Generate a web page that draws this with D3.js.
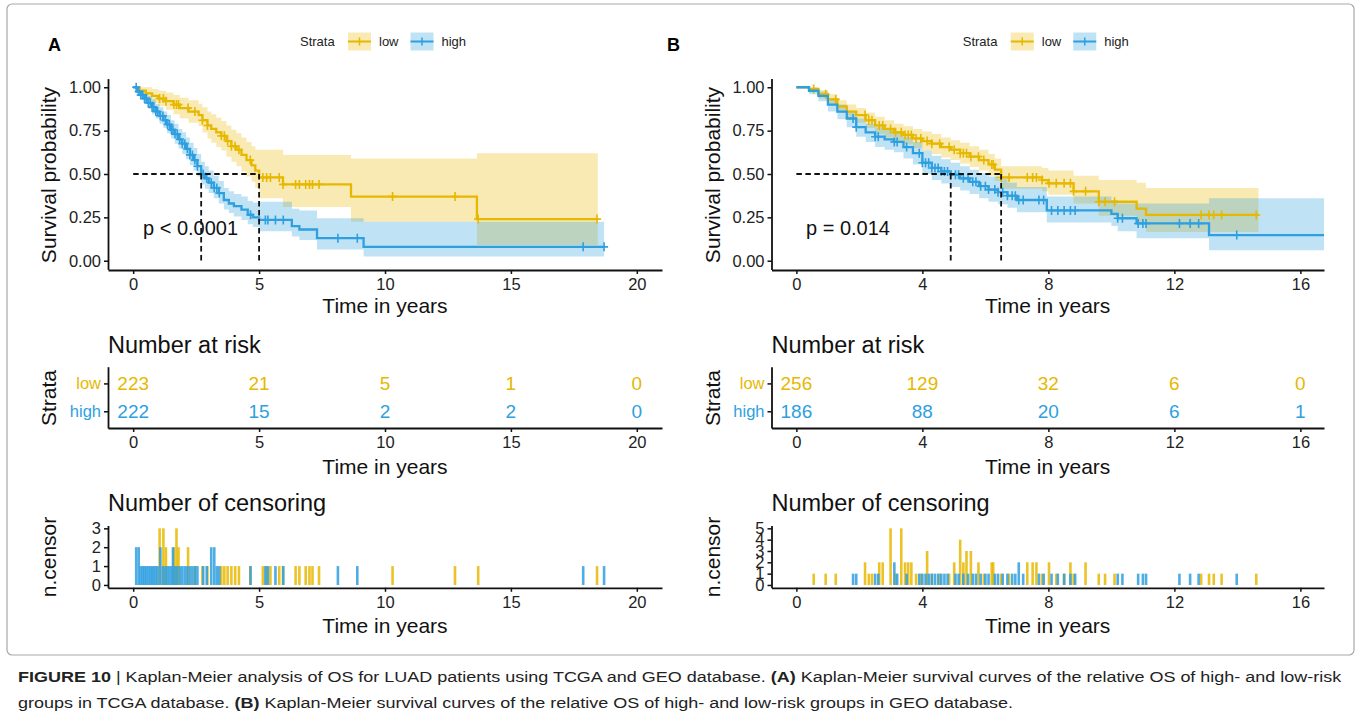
<!DOCTYPE html>
<html>
<head>
<meta charset="utf-8">
<script src="https://cdn.jsdelivr.net/npm/d3@7"></script>
<style>
  body { margin: 0; background: #fff; }
  svg text { font-family: "Liberation Sans", Arial, Helvetica, sans-serif; }
</style>
</head>
<body>
<svg id="fig" width="1360" height="722"></svg>
<script>
// ---------------- Data ----------------
const strata = ["low", "high"];

// Panel A (TCGA): Kaplan-Meier steps
const timeA_low  = [0, 0.25, 0.5, 0.75, 1.0, 1.3, 1.6, 1.85, 2.2, 2.6, 2.75, 2.95, 3.1, 3.3, 3.5, 3.7, 3.9, 4.1, 4.3, 4.5, 4.7, 4.85, 5.0, 5.95, 8.65, 13.65];
const survA_low  = [1, 0.98, 0.965, 0.95, 0.935, 0.92, 0.90, 0.88, 0.86, 0.84, 0.81, 0.78, 0.76, 0.74, 0.72, 0.69, 0.66, 0.64, 0.61, 0.58, 0.55, 0.52, 0.48, 0.44, 0.37, 0.24];
const upperA_low = [1, 1, 1, 0.99, 0.98, 0.97, 0.955, 0.94, 0.925, 0.905, 0.885, 0.86, 0.845, 0.825, 0.805, 0.78, 0.755, 0.735, 0.71, 0.685, 0.66, 0.64, 0.64, 0.61, 0.59, 0.62];
const lowerA_low = [1, 0.96, 0.93, 0.91, 0.89, 0.87, 0.845, 0.82, 0.795, 0.775, 0.74, 0.705, 0.68, 0.655, 0.635, 0.60, 0.57, 0.545, 0.515, 0.485, 0.455, 0.42, 0.36, 0.31, 0.225, 0.09];
const endA_low = 18.45;

const timeA_high  = [0, 0.15, 0.3, 0.45, 0.6, 0.75, 0.9, 1.05, 1.2, 1.35, 1.5, 1.65, 1.8, 1.95, 2.1, 2.25, 2.4, 2.55, 2.7, 2.85, 3.0, 3.2, 3.4, 3.6, 3.8, 4.0, 4.3, 4.55, 4.75, 5.0, 6.3, 6.6, 7.3, 9.15];
const survA_high  = [1, 0.975, 0.955, 0.935, 0.91, 0.885, 0.86, 0.835, 0.81, 0.785, 0.755, 0.73, 0.70, 0.675, 0.645, 0.61, 0.58, 0.545, 0.50, 0.475, 0.45, 0.42, 0.39, 0.35, 0.33, 0.315, 0.295, 0.265, 0.25, 0.235, 0.20, 0.18, 0.13, 0.08];
const upperA_high = [1, 0.995, 0.985, 0.97, 0.95, 0.93, 0.905, 0.885, 0.86, 0.84, 0.81, 0.79, 0.76, 0.74, 0.71, 0.68, 0.65, 0.615, 0.57, 0.545, 0.52, 0.49, 0.46, 0.42, 0.40, 0.385, 0.37, 0.345, 0.335, 0.34, 0.30, 0.29, 0.245, 0.225];
const lowerA_high = [1, 0.955, 0.93, 0.905, 0.875, 0.845, 0.82, 0.79, 0.765, 0.735, 0.705, 0.675, 0.645, 0.615, 0.585, 0.55, 0.52, 0.485, 0.44, 0.415, 0.39, 0.36, 0.33, 0.295, 0.275, 0.255, 0.235, 0.21, 0.195, 0.17, 0.14, 0.12, 0.065, 0.025];
const endA_high = 18.7;

// Panel A censoring times (years) and counts
const censTimeA_low  = [1.05, 1.2, 1.3, 1.62, 1.72, 1.8, 2.18, 2.45, 2.75, 2.95, 3.5, 3.62, 3.75, 3.9, 4.05, 4.2, 4.65, 5.15, 5.3, 5.45, 5.8, 5.95, 6.45, 6.6, 6.85, 7.0, 7.12, 7.38, 10.3, 12.78, 13.7, 18.42];
const censCountA_low = [3, 3, 2, 2, 3, 2, 2, 1, 1, 1, 1, 1, 1, 1, 1, 1, 1, 1, 1, 1, 1, 1, 1, 1, 1, 1, 1, 1, 1, 1, 1, 1];
const censTimeA_high  = [0.12, 0.22, 0.3, 0.38, 0.45, 0.52, 0.6, 0.68, 0.75, 0.82, 0.9, 0.97, 1.08, 1.18, 1.28, 1.36, 1.44, 1.52, 1.58, 1.66, 1.75, 1.85, 1.95, 2.05, 2.15, 2.25, 2.35, 2.45, 2.55, 2.78, 2.92, 3.1, 3.22, 3.32, 3.42, 4.66, 5.25, 5.35, 5.65, 5.96, 8.13, 8.9, 17.87, 18.7];
const censCountA_high = [2, 2, 1, 1, 1, 1, 1, 1, 1, 1, 1, 1, 2, 1, 1, 1, 1, 1, 2, 1, 1, 1, 1, 1, 1, 1, 1, 1, 1, 1, 1, 2, 2, 1, 1, 1, 1, 1, 1, 1, 1, 1, 1, 1];

// Panel A number at risk
const riskTicksA = [0, 5, 10, 15, 20];
const riskA_low  = [223, 21, 5, 1, 0];
const riskA_high = [222, 15, 2, 2, 0];

// Panel B (GEO): Kaplan-Meier steps
const timeB_low  = [0, 0.4, 0.7, 1.0, 1.3, 1.6, 1.9, 2.2, 2.5, 2.8, 3.1, 3.4, 3.7, 4.0, 4.3, 4.6, 4.9, 5.2, 5.5, 5.8, 6.1, 6.3, 6.5, 7.8, 8.0, 8.8, 9.6, 10.8, 11.1];
const survB_low  = [1, 0.99, 0.96, 0.93, 0.89, 0.86, 0.84, 0.81, 0.78, 0.76, 0.74, 0.725, 0.705, 0.69, 0.675, 0.655, 0.64, 0.62, 0.60, 0.58, 0.555, 0.525, 0.48, 0.465, 0.446, 0.40, 0.34, 0.30, 0.264];
const upperB_low = [1, 1, 0.985, 0.96, 0.925, 0.9, 0.88, 0.855, 0.83, 0.81, 0.79, 0.775, 0.76, 0.745, 0.73, 0.71, 0.695, 0.68, 0.66, 0.64, 0.615, 0.59, 0.545, 0.535, 0.52, 0.49, 0.465, 0.45, 0.42];
const lowerB_low = [1, 0.975, 0.935, 0.9, 0.855, 0.82, 0.795, 0.765, 0.73, 0.71, 0.69, 0.67, 0.65, 0.635, 0.615, 0.595, 0.58, 0.56, 0.54, 0.52, 0.49, 0.46, 0.415, 0.40, 0.38, 0.33, 0.26, 0.22, 0.165];
const endB_low = 14.67;

const timeB_high  = [0, 0.4, 0.7, 1.0, 1.3, 1.6, 1.9, 2.2, 2.5, 2.8, 3.1, 3.4, 3.7, 4.0, 4.3, 4.6, 4.9, 5.2, 5.5, 5.8, 6.1, 6.4, 6.7, 7.0, 7.95, 10.0, 10.2, 10.8, 13.1];
const survB_high  = [1, 0.98, 0.95, 0.90, 0.86, 0.82, 0.77, 0.74, 0.715, 0.70, 0.685, 0.655, 0.62, 0.565, 0.535, 0.515, 0.495, 0.475, 0.455, 0.43, 0.41, 0.395, 0.375, 0.35, 0.29, 0.27, 0.245, 0.215, 0.148];
const upperB_high = [1, 0.995, 0.975, 0.935, 0.9, 0.865, 0.82, 0.79, 0.77, 0.755, 0.74, 0.715, 0.685, 0.635, 0.605, 0.585, 0.565, 0.545, 0.525, 0.505, 0.485, 0.47, 0.45, 0.425, 0.37, 0.35, 0.33, 0.33, 0.36];
const lowerB_high = [1, 0.96, 0.92, 0.86, 0.815, 0.77, 0.715, 0.685, 0.655, 0.64, 0.625, 0.59, 0.555, 0.5, 0.465, 0.445, 0.425, 0.405, 0.385, 0.36, 0.34, 0.325, 0.305, 0.28, 0.22, 0.2, 0.17, 0.13, 0.06];
const endB_high = 16.75;

// Panel B censoring times (years) and counts
const censTimeB_low  = [0.55, 0.93, 1.25, 2.18, 2.3, 2.4, 2.63, 2.74, 2.99, 3.15, 3.33, 3.45, 3.55, 3.65, 3.8, 3.95, 4.15, 4.3, 4.55, 4.85, 5.01, 5.2, 5.3, 5.4, 5.54, 5.78, 5.95, 6.2, 6.25, 6.5, 6.75, 7.33, 7.5, 7.62, 7.8, 8.02, 8.25, 8.5, 8.7, 8.8, 9.18, 9.6, 9.8, 10.1, 12.85, 13.1, 13.25, 13.5, 14.6];
const censCountB_low = [1, 1, 1, 2, 1, 1, 2, 2, 5, 1, 5, 2, 2, 2, 1, 1, 3, 1, 1, 1, 2, 4, 2, 3, 3, 2, 1, 2, 2, 1, 1, 2, 2, 2, 1, 2, 1, 1, 2, 1, 2, 1, 1, 1, 1, 1, 1, 1, 1];
const censTimeB_high  = [1.8, 1.9, 2.5, 2.6, 3.11, 3.2, 3.5, 3.9, 4.0, 4.1, 4.2, 4.3, 4.4, 4.5, 4.6, 4.7, 4.8, 5.05, 5.15, 5.3, 5.45, 5.6, 5.7, 5.85, 6.0, 6.1, 6.3, 6.4, 6.55, 6.7, 6.85, 6.95, 7.06, 7.2, 7.7, 7.85, 8.1, 8.3, 8.5, 8.7, 8.85, 10.2, 10.35, 10.85, 11.0, 11.1, 12.16, 12.5, 12.77, 13.98];
const censCountB_high = [1, 1, 1, 1, 2, 1, 1, 1, 1, 1, 1, 1, 1, 1, 1, 1, 1, 1, 1, 1, 1, 1, 1, 1, 1, 1, 1, 1, 1, 1, 1, 1, 2, 1, 1, 1, 1, 1, 1, 1, 1, 1, 1, 1, 1, 1, 1, 1, 1, 1];

// Panel B number at risk
const riskTicksB = [0, 4, 8, 12, 16];
const riskB_low  = [256, 129, 32, 6, 0];
const riskB_high = [186, 88, 20, 6, 1];

const pTextA = "p < 0.0001";
const pTextB = "p = 0.014";

const captionLine1 = [
  {t: "FIGURE 10", b: true}, {t: " | Kaplan-Meier analysis of OS for LUAD patients using TCGA and GEO database. ", b: false},
  {t: "(A)", b: true}, {t: " Kaplan-Meier survival curves of the relative OS of high- and low-risk", b: false}
];
const captionLine2 = [
  {t: "groups in TCGA database. ", b: false}, {t: "(B)", b: true},
  {t: " Kaplan-Meier survival curves of the relative OS of high- and low-risk groups in GEO database.", b: false}
];

// ---------------- Drawing ----------------
const FONT = "'Liberation Sans', Arial, Helvetica, sans-serif";
const COLORS = { low: "#E7B800", high: "#2E9FDF" };
const svg = d3.select("#fig");

svg.append("rect").attr("x", 7).attr("y", 4).attr("width", 1347).attr("height", 651)
  .attr("rx", 5).attr("fill", "none").attr("stroke", "#a8a8a8").attr("stroke-width", 1.2);

const TICK_FS = 16.5, TITLE_FS = 21, HEAD_FS = 23.5;

function styleAxis(g) {
  g.attr("font-family", FONT).attr("font-size", TICK_FS);
  g.select(".domain").attr("stroke", "#111").attr("stroke-width", 1.8);
  g.selectAll(".tick line").attr("stroke", "#111").attr("stroke-width", 1.5);
  g.selectAll(".tick text").attr("fill", "#222");
}

function groupsFor(p) {
  return [
    { key: "low", time: p.low.time, surv: p.low.surv, upper: p.low.upper, lower: p.low.lower, end: p.low.end,
      cT: p.low.cT, cN: p.low.cN, color: COLORS.low },
    { key: "high", time: p.high.time, surv: p.high.surv, upper: p.high.upper, lower: p.high.lower, end: p.high.end,
      cT: p.high.cT, cN: p.high.cN, color: COLORS.high }
  ];
}

function survAt(gr, t) {
  const i = Math.max(0, d3.bisectRight(gr.time, t) - 1);
  return gr.surv[i];
}
function medianOf(gr) {
  const i = gr.surv.findIndex(s => s <= 0.5);
  return gr.time[i];
}

function drawPanel(p) {
  const groups = groupsFor(p);
  const cx = (p.x0 + p.x1) / 2;
  const x = d3.scaleLinear().domain(p.tDomain).range([p.x0, p.x1]);

  // Panel letter
  svg.append("text").attr("x", p.letterX).attr("y", 51).attr("font-size", 18).attr("font-weight", "bold")
    .attr("fill", "#000").text(p.letter);

  // Legend
  const lg = svg.append("g").attr("font-size", 13).attr("fill", "#222");
  lg.append("text").attr("x", cx - 85).attr("y", 46).text("Strata");
  const keyX = { low: cx - 37, high: cx + 25.5 };
  groups.forEach(gr => {
    const kx = keyX[gr.key];
    lg.append("rect").attr("x", kx).attr("y", 32.5).attr("width", 23).attr("height", 18)
      .attr("fill", gr.color).attr("fill-opacity", 0.3);
    lg.append("line").attr("x1", kx).attr("x2", kx + 23).attr("y1", 41.5).attr("y2", 41.5)
      .attr("stroke", gr.color).attr("stroke-width", 2);
    lg.append("line").attr("x1", kx + 11.5).attr("x2", kx + 11.5).attr("y1", 37.5).attr("y2", 45.5)
      .attr("stroke", gr.color).attr("stroke-width", 1.5);
    lg.append("text").attr("x", kx + 31).attr("y", 46).text(gr.key);
  });

  // ---- Survival curves ----
  const y = d3.scaleLinear().domain([-0.05, 1.05]).range([269.4, 78.6]);
  const plot = svg.append("g");

  const stepPts = gr => {
    const pts = gr.time.map((t, i) => ({ t, s: gr.surv[i], lo: gr.lower[i], hi: gr.upper[i] }));
    const n = gr.time.length - 1;
    pts.push({ t: gr.end, s: gr.surv[n], lo: gr.lower[n], hi: gr.upper[n] });
    return pts;
  };

  groups.forEach(gr => {
    plot.append("path").datum(stepPts(gr))
      .attr("d", d3.area().curve(d3.curveStepAfter).x(d => x(d.t)).y0(d => y(d.lo)).y1(d => y(d.hi)))
      .attr("fill", gr.color).attr("fill-opacity", 0.3);
  });
  groups.forEach(gr => {
    plot.append("path").datum(stepPts(gr))
      .attr("d", d3.line().curve(d3.curveStepAfter).x(d => x(d.t)).y(d => y(d.s)))
      .attr("fill", "none").attr("stroke", gr.color).attr("stroke-width", 2.3);
    gr.cT.forEach(t => {
      const px = x(t), py = y(survAt(gr, t));
      plot.append("path").attr("d", `M${px - 4},${py}H${px + 4}M${px},${py - 4.5}V${py + 4.5}`)
        .attr("stroke", gr.color).attr("stroke-width", 1.6).attr("fill", "none");
    });
  });

  // Median survival guides
  const meds = groups.map(medianOf);
  const dash = { stroke: "#111", "stroke-width": 1.8, "stroke-dasharray": "5.5,3.5" };
  const hl = plot.append("line").attr("x1", x(0)).attr("x2", x(d3.max(meds))).attr("y1", y(0.5)).attr("y2", y(0.5));
  Object.entries(dash).forEach(([k, v]) => hl.attr(k, v));
  meds.forEach(m => {
    const vl = plot.append("line").attr("x1", x(m)).attr("x2", x(m)).attr("y1", y(0.5)).attr("y2", y(0));
    Object.entries(dash).forEach(([k, v]) => vl.attr(k, v));
  });

  plot.append("text").attr("x", p.pX).attr("y", 235).attr("font-size", 20).attr("fill", "#111").text(p.pText);

  const gx = svg.append("g").attr("transform", "translate(0,270)")
    .call(d3.axisBottom(x).tickValues(p.ticks).tickSize(4).tickSizeOuter(0).tickPadding(4));
  styleAxis(gx);
  const gy = svg.append("g").attr("transform", `translate(${p.x0},0)`)
    .call(d3.axisLeft(y).tickValues([0, 0.25, 0.5, 0.75, 1]).tickFormat(d3.format(".2f"))
      .tickSize(4).tickSizeOuter(0).tickPadding(3));
  styleAxis(gy);

  svg.append("text").attr("x", cx).attr("y", 313).attr("text-anchor", "middle").attr("font-size", TITLE_FS)
    .attr("fill", "#111").text("Time in years");
  svg.append("text").attr("transform", `translate(${p.yTitleX},175) rotate(-90)`).attr("text-anchor", "middle")
    .attr("font-size", TITLE_FS).attr("fill", "#111").text("Survival probability");

  // ---- Number at risk ----
  svg.append("text").attr("x", p.x0).attr("y", 353).attr("font-size", HEAD_FS).attr("fill", "#111").text("Number at risk");
  const yr = d3.scalePoint().domain(["high", "low"]).range([428, 366.7]).padding(0.6);
  const risk = { low: p.riskLow, high: p.riskHigh };
  groups.forEach(gr => {
    svg.append("g").selectAll("text").data(p.ticks).join("text")
      .attr("x", d => x(d)).attr("y", yr(gr.key)).attr("dy", "0.36em").attr("text-anchor", "middle")
      .attr("font-size", 19).attr("fill", gr.color).text((d, i) => risk[gr.key][i]);
  });
  const rx = svg.append("g").attr("transform", "translate(0,428)")
    .call(d3.axisBottom(x).tickValues(p.ticks).tickSize(4).tickSizeOuter(0).tickPadding(4));
  styleAxis(rx);
  const ry = svg.append("g").attr("transform", `translate(${p.x0},0)`)
    .call(d3.axisLeft(yr).tickSize(4).tickSizeOuter(0).tickPadding(3));
  styleAxis(ry);
  ry.selectAll(".tick text").attr("fill", d => COLORS[d]);
  svg.append("text").attr("x", cx).attr("y", 474).attr("text-anchor", "middle").attr("font-size", TITLE_FS)
    .attr("fill", "#111").text("Time in years");
  svg.append("text").attr("transform", `translate(${p.yTitleX},398) rotate(-90)`).attr("text-anchor", "middle")
    .attr("font-size", TITLE_FS).attr("fill", "#111").text("Strata");

  // ---- Number of censoring ----
  svg.append("text").attr("x", p.x0).attr("y", 511).attr("font-size", HEAD_FS).attr("fill", "#111").text("Number of censoring");
  const cmax = p.censMax;
  const yc = d3.scaleLinear().domain([-0.05 * cmax, 1.05 * cmax]).range([587.8, 525.5]);
  groups.forEach(gr => {
    svg.append("g").selectAll("rect").data(gr.cT.map((t, i) => ({ t, n: gr.cN[i] }))).join("rect")
      .attr("x", d => x(d.t) - 1.3).attr("width", 2.6)
      .attr("y", d => yc(d.n)).attr("height", d => yc(0) - yc(d.n))
      .attr("fill", gr.color).attr("fill-opacity", 0.85);
  });
  const cxAxis = svg.append("g").attr("transform", "translate(0,587.8)")
    .call(d3.axisBottom(x).tickValues(p.ticks).tickSize(4).tickSizeOuter(0).tickPadding(4));
  styleAxis(cxAxis);
  const cyAxis = svg.append("g").attr("transform", `translate(${p.x0},0)`)
    .call(d3.axisLeft(yc).tickValues(d3.range(0, cmax + 1)).tickFormat(d3.format("d"))
      .tickSize(4).tickSizeOuter(0).tickPadding(3));
  styleAxis(cyAxis);
  svg.append("text").attr("x", cx).attr("y", 633).attr("text-anchor", "middle").attr("font-size", TITLE_FS)
    .attr("fill", "#111").text("Time in years");
  svg.append("text").attr("transform", `translate(${p.yTitleX},557) rotate(-90)`).attr("text-anchor", "middle")
    .attr("font-size", TITLE_FS).attr("fill", "#111").text("n.censor");
}

drawPanel({
  letter: "A", letterX: 48, x0: 108, x1: 662, tDomain: [-1, 21], ticks: riskTicksA, yTitleX: 56,
  pText: pTextA, pX: 143, riskLow: riskA_low, riskHigh: riskA_high, censMax: 3,
  low:  { time: timeA_low, surv: survA_low, upper: upperA_low, lower: lowerA_low, end: endA_low, cT: censTimeA_low, cN: censCountA_low },
  high: { time: timeA_high, surv: survA_high, upper: upperA_high, lower: lowerA_high, end: endA_high, cT: censTimeA_high, cN: censCountA_high }
});
drawPanel({
  letter: "B", letterX: 667, x0: 771.5, x1: 1324, tDomain: [-0.79, 16.75], ticks: riskTicksB, yTitleX: 720,
  pText: pTextB, pX: 806, riskLow: riskB_low, riskHigh: riskB_high, censMax: 5,
  low:  { time: timeB_low, surv: survB_low, upper: upperB_low, lower: lowerB_low, end: endB_low, cT: censTimeB_low, cN: censCountB_low },
  high: { time: timeB_high, surv: survB_high, upper: upperB_high, lower: lowerB_high, end: endB_high, cT: censTimeB_high, cN: censCountB_high }
});

// ---------------- Caption ----------------
function captionLine(parts, yPos) {
  const t = svg.append("text").attr("transform", `translate(18,${yPos}) scale(1.2,1)`)
    .attr("font-size", 15).attr("fill", "#222");
  parts.forEach(p => t.append("tspan").attr("font-weight", p.b ? "bold" : "normal").text(p.t));
}
captionLine(captionLine1, 682);
captionLine(captionLine2, 708);
</script>
</body>
</html>
